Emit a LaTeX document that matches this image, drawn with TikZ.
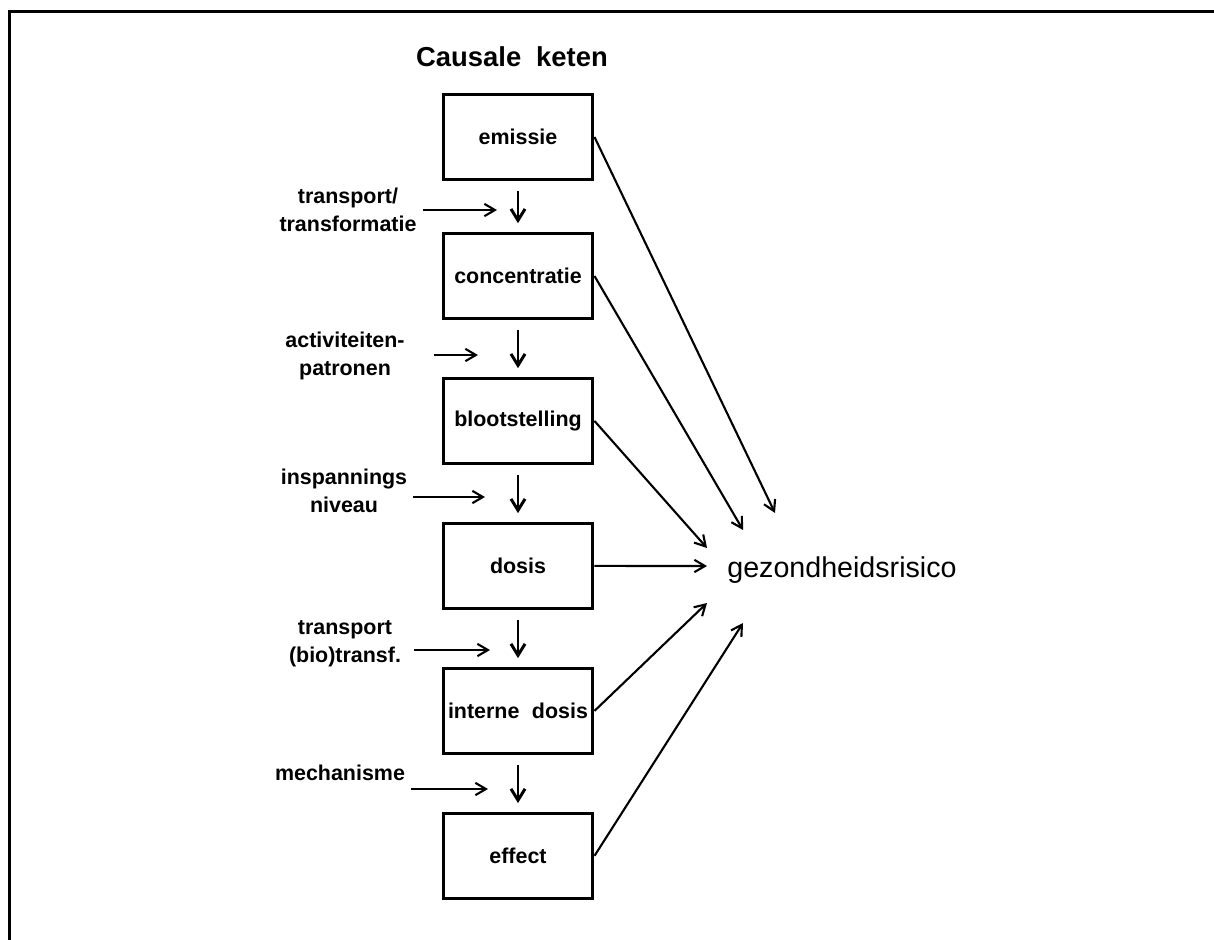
\documentclass[tikz,border=0pt]{standalone}
\usepackage{fontspec}
\setmainfont{Liberation Sans}
\usetikzlibrary{positioning}
\usetikzlibrary{arrows.meta}

\begin{document}
\begin{tikzpicture} [
    x=0.02cm, y=-0.02cm,            % one unit is one pixel of the scan
    node distance=2.9cm,            % Global setup of box spacing
    ]
% -------------------------------------------------
\tikzset{
  base/.style={draw, on grid, align=center, line width=1.7pt},
  rect/.style={base, rectangle, inner xsep=1pt, minimum width=3cm, minimum height=1.7cm, font=\fontsize{12.2}{16}\selectfont\bfseries},
  side/.style={align=center, font=\fontsize{12.2}{16}\selectfont\bfseries},
  flow/.style={draw, line width=1.7pt, -{Straight Barb[length=6.5pt,width=8pt]}, shorten <=5.5pt, shorten >=5pt},
  feed/.style={draw, line width=1.2pt, -{Straight Barb[length=6pt,width=7pt]}},
  link/.style={draw, line width=1.2pt, -{Straight Barb[length=6pt,width=7pt]}}
}

    \useasboundingbox (0,0) rectangle (1214,940);
    \draw[line width=1.7pt] (1214,11.5) -- (9.5,11.5) -- (9.5,940);      % frame: top and left edge

    \node [font=\fontsize{15.6}{18}\selectfont\bfseries] (ttl) at (512,57) {Causale\hspace{0.3cm}keten};

    \node [rect] (emis) at (518,137) {emissie};
    \node [rect, below=2.78cm of emis] (conc) {concentratie};
    \node [rect, below=of conc] (bloot) {blootstelling};
    \node [rect, below=of bloot] (dosis) {dosis};
    \node [rect, below=of dosis] (intern) {interne\hspace{0.25cm}dosis};
    \node [rect, below=of intern] (eff) {effect};

    \node [anchor=base west, inner sep=0, font=\fontsize{16.3}{20}\selectfont] (risk) at (727,577) {gezondheidsrisico};

    \node [side] (trf) at (348,210) {transport/\\transformatie};
    \node [side] (act) at (345,356) {activiteiten-\\patronen};
    \node [side] (insp) at (344,491) {inspannings\\niveau};
    \node [side] (bio) at (345,644) {transport\\(bio)transf.};
    \node [side] (mech) at (340,773) {mechanisme};

    \coordinate (in1) at (497,210);
    \coordinate (in2) at (478,355);
    \coordinate (in3) at (485,497);
    \coordinate (in4) at (490,650);
    \coordinate (in5) at (488,789);

    \coordinate (r1) at (775,513);
    \coordinate (r2) at (743,530);
    \coordinate (r3) at (707,548);
    \coordinate (r4) at (707,566);
    \coordinate (r5) at (707,603);
    \coordinate (r6) at (743,623);

    \path [flow] (emis) -- (conc);
    \path [flow] (conc) -- (bloot);
    \path [flow] (bloot) -- (dosis);
    \path [flow] (dosis) -- (intern);
    \path [flow] (intern) -- (eff);

    \path [feed] (trf.east |- in1) -- (in1);
    \path [feed, shorten <=13pt] (act.east |- in2) -- (in2);
    \path [feed] (insp.east |- in3) -- (in3);
    \path [feed, shorten <=4pt] (bio.east |- in4) -- (in4);
    \path [feed] (mech.east |- in5) -- (in5);

    \path [link] (emis.east) -- (r1);
    \path [link] (conc.east) -- (r2);
    \path [link] (bloot.east) -- (r3);
    \path [link] (dosis.east) -- (r4);
    \path [link] (intern.east) -- (r5);
    \path [link] (eff.east) -- (r6);

\end{tikzpicture}
\end{document}
